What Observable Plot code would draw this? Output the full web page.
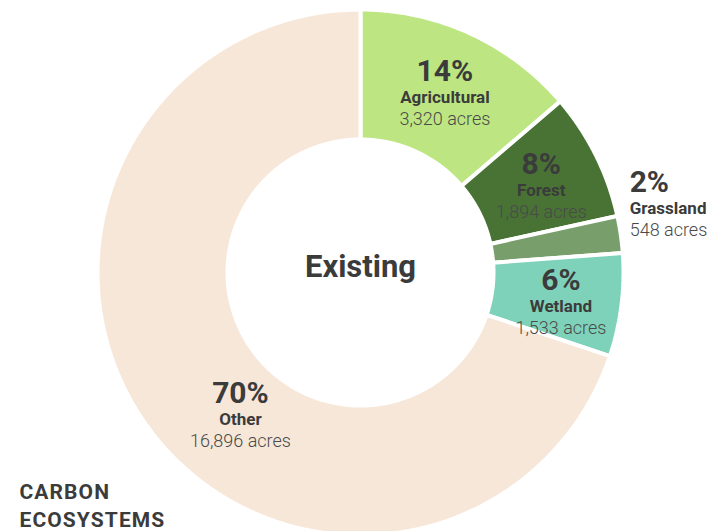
<!DOCTYPE html>
<html>
<head>
<meta charset="utf-8">
<script src="https://cdn.jsdelivr.net/npm/d3@7"></script>
<script src="https://cdn.jsdelivr.net/npm/@observablehq/plot@0.6"></script>
<style>
  html, body { margin: 0; padding: 0; background: #fff; }
  #chart svg { display: block; font-family: Roboto, "Noto Sans", sans-serif; }
</style>
</head>
<body>
<div id="chart"></div>
<script>
// ---- data ----
const categories = ["Agricultural", "Forest", "Grassland", "Wetland", "Other"];
const acres = [3320, 1894, 548, 1533, 16896];
const percents = ["14%", "8%", "2%", "6%", "70%"];
const centerLabel = "Existing";
const captionText = "CARBON\nECOSYSTEMS";

// ---- styles / layout config ----
const palette = ["#bde682", "#487334", "#789f6b", "#7fd2ba", "#f7e7d8"];
const W = 716, H = 531;
const cxPx = 360, cyPx = 272;        // donut centre in pixels
const R = 263, r = 133;              // outer / inner radius (incl. white stroke)
const labelR = 202;
const labelOverrides = {Other: {angleDeg: 221, radius: 183}};
const outsideLabels = new Set(["Grassland"]);
const ink = "#3b3b3b";

const data = categories.map((c, i) => ({category: c, acres: acres[i], pct: percents[i]}));
const arcs = d3.pie().sort(null).value(d => d.acres)(data);

// wedge polygons in (x right, y up) units centred on donut centre
const N = 120;
const poly = [];
for (const a of arcs) {
  const pts = [];
  for (let k = 0; k <= N; k++) {
    const t = a.startAngle + (a.endAngle - a.startAngle) * k / N;
    pts.push([R * Math.sin(t), R * Math.cos(t)]);
  }
  for (let k = N; k >= 0; k--) {
    const t = a.startAngle + (a.endAngle - a.startAngle) * k / N;
    pts.push([r * Math.sin(t), r * Math.cos(t)]);
  }
  pts.push(pts[0]);
  for (const [x, y] of pts) poly.push({category: a.data.category, x, y});
}

// label anchors
const inside = [], outside = [];
for (const a of arcs) {
  const d = a.data;
  const ov = labelOverrides[d.category] || {};
  const mid = ov.angleDeg != null ? ov.angleDeg * Math.PI / 180 : (a.startAngle + a.endAngle) / 2;
  if (outsideLabels.has(d.category)) {
    const rr = R + 6;
    outside.push({...d, x: rr * Math.sin(mid) + 3, y: rr * Math.cos(mid) + 34});
  } else {
    const rr = ov.radius || labelR;
    inside.push({...d, x: rr * Math.sin(mid), y: rr * Math.cos(mid)});
  }
}

function labelMarks(rows, anchor) {
  return [
    Plot.text(rows, {x: "x", y: "y", text: "pct", textAnchor: anchor, lineAnchor: "bottom",
      dy: -8, fontSize: 30, fontWeight: 700, fill: ink}),
    Plot.text(rows, {x: "x", y: "y", text: "category", textAnchor: anchor, lineAnchor: "bottom",
      dy: 14, fontSize: 17, fontWeight: 700, fill: ink}),
    Plot.text(rows, {x: "x", y: "y", text: d => d3.format(",")(d.acres) + " acres", textAnchor: anchor,
      lineAnchor: "bottom", dy: 36, fontSize: 18, fontWeight: 300, fill: "#4a4a4a"})
  ];
}

const chart = Plot.plot({
  width: W,
  height: H,
  margin: 0,
  style: {background: "#fff", overflow: "visible"},
  x: {domain: [-cxPx, W - cxPx], range: [0, W], axis: null},
  y: {domain: [cyPx - H, cyPx], range: [H, 0], axis: null},
  color: {domain: categories, range: palette},
  marks: [
    Plot.line(poly, {x: "x", y: "y", z: "category", fill: "category", stroke: "white",
      strokeWidth: 4, strokeLinejoin: "miter", curve: "linear"}),
    ...labelMarks(inside, "middle"),
    ...labelMarks(outside, "start"),
    Plot.text([centerLabel], {x: 0, y: 0, text: d => d, textAnchor: "middle", lineAnchor: "bottom",
      dy: 4, fontSize: 31, fontWeight: 700, fill: ink}),
    Plot.text([captionText], {frameAnchor: "bottom-left", text: d => d, textAnchor: "start",
      lineAnchor: "bottom", dx: 19, dy: -5, lineHeight: 1.33, fontSize: 21, fontWeight: 700,
      fill: ink})
  ]
});
// widen the caption's letter spacing
d3.select(chart).selectAll("text")
  .filter(function () { return this.textContent.startsWith("CARBON"); })
  .attr("letter-spacing", "1.1px");
document.getElementById("chart").appendChild(chart);
</script>
</body>
</html>
